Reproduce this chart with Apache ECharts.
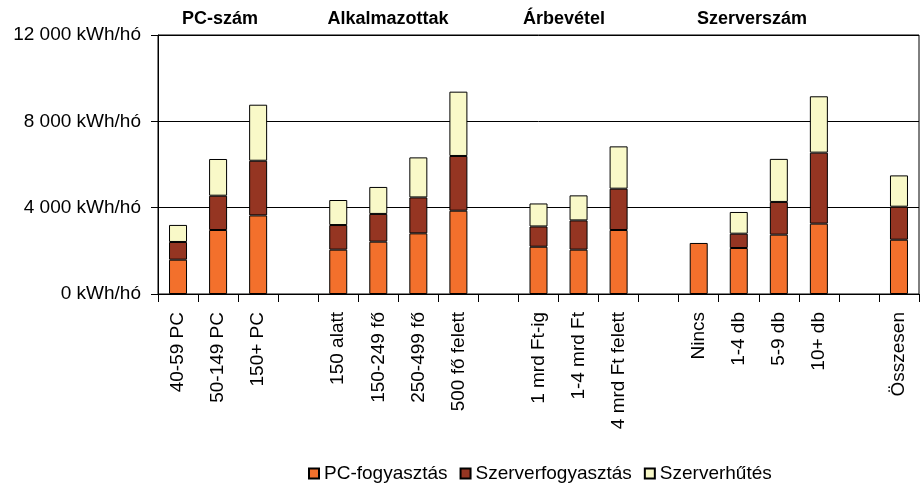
<!DOCTYPE html>
<html>
<head>
<meta charset="utf-8">
<script src="https://cdn.jsdelivr.net/npm/echarts@6/dist/echarts.min.js"></script>
<style>
  html, body { margin: 0; padding: 0; background: #fff; }
  #root { width: 920px; height: 484px; }
</style>
</head>
<body>
<div id="root"></div>
<script>
// categories, '' = empty slot between groups
const categories = [
  '40-59 PC', '50-149 PC', '150+ PC', '',
  '150 alatt', '150-249 fő', '250-499 fő', '500 fő felett', '',
  '1 mrd Ft-ig', '1-4 mrd Ft', '4 mrd Ft felett', '',
  'Nincs', '1-4 db', '5-9 db', '10+ db', '',
  'Összesen'
]

const pcData = [1590, 2965, 3640, '-', 2055, 2425, 2810, 3860, '-', 2190, 2055, 2965, '-', 2365, 2130, 2750, 3260, '-', 2515]
const serverData = [820, 1590, 2535, '-', 1140, 1285, 1665, 2535, '-', 940, 1355, 1915, '-', '-', 665, 1515, 3290, '-', 1530]
const coolingData = [790, 1700, 2595, '-', 1160, 1250, 1855, 2980, '-', 1065, 1160, 1960, '-', '-', 1005, 1995, 2610, '-', 1450]

const seriesNames = ['PC-fogyasztás', 'Szerverfogyasztás', 'Szerverhűtés']
const groupTitles = ['PC-szám', 'Alkalmazottak', 'Árbevétel', 'Szerverszám']
const yTicks = [0, 4000, 8000, 12000]

const FONT = '"Liberation Sans", Arial, sans-serif'
const titleX = [220, 388, 564, 752]

const chart = echarts.init(document.getElementById('root'))

const fmt = (v) => String(v).replace(/\B(?=(\d{3})+(?!\d))/g, ' ') + ' kWh/hó'

const bar = (name, data, color) => ({
  name: name,
  type: 'bar',
  stack: 'total',
  data: data,
  barWidth: 18,
  itemStyle: { color: color, borderColor: '#000', borderWidth: 1 },
  emphasis: { disabled: true },
  animation: false
})

chart.setOption({
  backgroundColor: '#fff',
  textStyle: { fontFamily: FONT },
  grid: {
    left: 158,
    right: 1,
    top: 35,
    bottom: 190,
    show: true,
    borderColor: '#000',
    borderWidth: 1
  },
  legend: {
    data: seriesNames,
    left: 303,
    top: 459,
    itemWidth: 10,
    itemHeight: 10,
    itemGap: 12,
    icon: 'rect',
    textStyle: { fontSize: 19, color: '#000', fontFamily: FONT }
  },
  xAxis: {
    type: 'category',
    data: categories,
    axisLine: { lineStyle: { color: '#000', width: 1 } },
    axisTick: { show: true, length: 8, lineStyle: { color: '#000' } },
    axisLabel: {
      rotate: 90,
      interval: 0,
      margin: 18,
      fontSize: 19,
      color: '#000',
      fontFamily: FONT
    }
  },
  yAxis: {
    type: 'value',
    min: yTicks[0],
    max: yTicks[yTicks.length - 1],
    interval: 4000,
    axisLine: { show: true, lineStyle: { color: '#000', width: 1 } },
    axisTick: { show: true, length: 7, lineStyle: { color: '#000' } },
    splitLine: { lineStyle: { color: '#000', width: 1 } },
    axisLabel: {
      formatter: fmt,
      margin: 17,
      fontSize: 19,
      color: '#000',
      fontFamily: FONT
    }
  },
  graphic: groupTitles.map((t, i) => ({
    type: 'text',
    x: titleX[i],
    y: 19,
    style: {
      text: t,
      fill: '#000',
      font: 'bold 18px ' + FONT,
      textAlign: 'center',
      textVerticalAlign: 'middle'
    }
  })),
  series: [
    bar(seriesNames[0], pcData, '#F3702C'),
    bar(seriesNames[1], serverData, '#953522'),
    bar(seriesNames[2], coolingData, '#F9F9C8')
  ]
})
</script>
</body>
</html>
